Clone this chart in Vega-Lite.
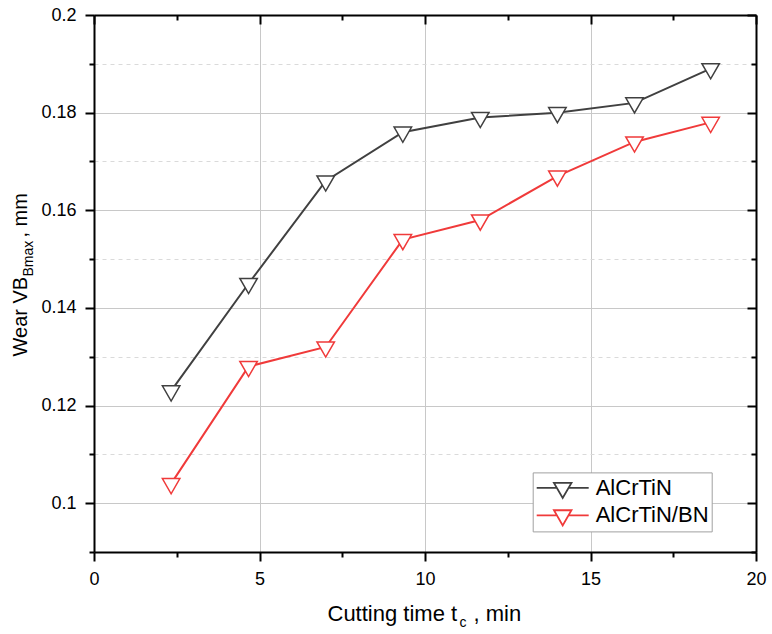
{
  "$schema": "https://vega.github.io/schema/vega-lite/v6.json",
  "autosize": {"type": "none"},
  "width": 662,
  "height": 537,
  "padding": {"left": 94, "top": 15, "right": 16, "bottom": 82},
  "background": "white",
  "config": {"view": {"stroke": null}, "font": "Liberation Sans"},
  "data": {
    "values": [
      {"t": 2.33, "wear": 0.123, "series": "AlCrTiN"},
      {"t": 4.67, "wear": 0.145, "series": "AlCrTiN"},
      {"t": 7.0, "wear": 0.166, "series": "AlCrTiN"},
      {"t": 9.33, "wear": 0.176, "series": "AlCrTiN"},
      {"t": 11.67, "wear": 0.179, "series": "AlCrTiN"},
      {"t": 14.0, "wear": 0.18, "series": "AlCrTiN"},
      {"t": 16.33, "wear": 0.182, "series": "AlCrTiN"},
      {"t": 18.63, "wear": 0.189, "series": "AlCrTiN"},
      {"t": 2.33, "wear": 0.104, "series": "AlCrTiN/BN"},
      {"t": 4.67, "wear": 0.128, "series": "AlCrTiN/BN"},
      {"t": 7.0, "wear": 0.132, "series": "AlCrTiN/BN"},
      {"t": 9.33, "wear": 0.154, "series": "AlCrTiN/BN"},
      {"t": 11.67, "wear": 0.158, "series": "AlCrTiN/BN"},
      {"t": 14.0, "wear": 0.167, "series": "AlCrTiN/BN"},
      {"t": 16.33, "wear": 0.174, "series": "AlCrTiN/BN"},
      {"t": 18.63, "wear": 0.178, "series": "AlCrTiN/BN"}
    ]
  },
  "resolve": {"axis": {"x": "independent", "y": "independent"}},
  "layer": [
    {
      "mark": {"type": "line", "strokeWidth": 2},
      "encoding": {
        "x": {
          "field": "t", "type": "quantitative",
          "scale": {"domain": [0, 20], "nice": false, "zero": false},
          "axis": {
            "orient": "bottom",
            "values": [0, 2.5, 5, 7.5, 10, 12.5, 15, 17.5, 20],
            "labelExpr": "datum.value % 5 === 0 ? format(datum.value, 'd') : ''",
            "labelFont": "Liberation Sans", "labelFontSize": 18, "labelColor": "black",
            "labelPadding": 9, "labelFlush": false, "labelOverlap": false,
            "domainColor": "black", "domainWidth": 2,
            "tickColor": "black", "tickWidth": 2,
            "tickSize": {"condition": {"test": "datum.value % 5 !== 0", "value": 5}, "value": 9},
            "grid": true, "gridColor": "#c8c8c8", "gridWidth": 1,
            "gridOpacity": {"condition": {"test": "datum.value % 5 !== 0", "value": 0}, "value": 1},
            "title": "Cutting time t", "titleFont": "Liberation Sans", "titleFontSize": 22,
            "titleFontWeight": "normal", "titleColor": "black",
            "titleX": 233, "titleY": 68, "titleAlign": "left", "titleBaseline": "alphabetic", "titleAngle": 0
          }
        },
        "y": {
          "field": "wear", "type": "quantitative",
          "scale": {"domain": [0.09, 0.2], "nice": false, "zero": false},
          "axis": {
            "orient": "left",
            "values": [0.09, 0.1, 0.11, 0.12, 0.13, 0.14, 0.15, 0.16, 0.17, 0.18, 0.19, 0.2],
            "labelExpr": "round(datum.value * 100) % 2 === 0 ? format(datum.value, '~g') : ''",
            "labelFont": "Liberation Sans", "labelFontSize": 18, "labelColor": "black",
            "labelPadding": 9, "labelFlush": false, "labelOverlap": false,
            "domainColor": "black", "domainWidth": 2,
            "tickColor": "black", "tickWidth": 2,
            "tickSize": {"condition": {"test": "round(datum.value * 100) % 2 === 1", "value": 5}, "value": 9},
            "grid": true, "gridWidth": 1,
            "gridColor": {"condition": {"test": "round(datum.value * 100) % 2 === 1", "value": "#dadada"}, "value": "#c8c8c8"},
            "gridDash": {"condition": {"test": "round(datum.value * 100) % 2 === 1", "value": [4, 4]}, "value": []},
            "title": "Wear VB", "titleFont": "Liberation Sans", "titleFontSize": 20,
            "titleFontWeight": "normal", "titleColor": "black",
            "titleX": -68, "titleY": 341, "titleAlign": "left", "titleBaseline": "alphabetic", "titleAngle": 270
          }
        },
        "color": {
          "field": "series", "type": "nominal",
          "scale": {"domain": ["AlCrTiN", "AlCrTiN/BN"], "range": ["#404040", "#f03a3a"]},
          "legend": {
            "orient": "none", "legendX": 438.7, "legendY": 457.4,
            "title": null,
            "symbolType": "M-1,0L-0.225,0M0.225,0L1,0M-0.337,-0.194L0.337,-0.194L0,0.389Z",
            "symbolSize": 2704, "symbolStrokeWidth": 1.8, "symbolFillColor": "white",
            "symbolOffset": 0,
            "labelFont": "Liberation Sans", "labelFontSize": 22, "labelColor": "black",
            "labelOffset": 6, "padding": 3, "clipHeight": 25, "rowPadding": 2.4,
            "strokeColor": "#a0a0a0", "fillColor": "white"
          }
        }
      }
    },
    {
      "mark": {
        "type": "point",
        "shape": "M-1,-0.577L1,-0.577L0,1.155Z",
        "size": 306, "filled": true, "fill": "white", "strokeWidth": 1.5, "opacity": 1
      },
      "encoding": {
        "x": {
          "field": "t", "type": "quantitative",
          "axis": {
            "orient": "top",
            "values": [0, 2.5, 5, 7.5, 10, 12.5, 15, 17.5, 20],
            "labels": false, "grid": false, "title": null,
            "domainColor": "black", "domainWidth": 2,
            "tickColor": "black", "tickWidth": 2,
            "tickSize": {"condition": {"test": "datum.value % 5 !== 0", "value": -5}, "value": -9}
          }
        },
        "y": {
          "field": "wear", "type": "quantitative",
          "axis": {
            "orient": "right",
            "values": [0.09, 0.1, 0.11, 0.12, 0.13, 0.14, 0.15, 0.16, 0.17, 0.18, 0.19, 0.2],
            "labels": false, "grid": false, "title": null,
            "domainColor": "black", "domainWidth": 2,
            "tickColor": "black", "tickWidth": 2,
            "tickSize": {"condition": {"test": "round(datum.value * 100) % 2 === 1", "value": -5}, "value": -9}
          }
        },
        "stroke": {
          "field": "series", "type": "nominal",
          "scale": {"domain": ["AlCrTiN", "AlCrTiN/BN"], "range": ["#404040", "#f03a3a"]},
          "legend": null
        }
      }
    },
    {
      "mark": {"type": "point", "opacity": 0, "size": 0},
      "encoding": {
        "x": {
          "field": "t", "type": "quantitative",
          "axis": {
            "orient": "bottom", "domain": false, "ticks": false, "labels": false, "grid": false,
            "title": "c", "titleFont": "Liberation Sans", "titleFontSize": 14,
            "titleFontWeight": "normal", "titleColor": "black",
            "titleX": 365, "titleY": 74, "titleAlign": "left", "titleBaseline": "alphabetic", "titleAngle": 0
          }
        },
        "y": {
          "field": "wear", "type": "quantitative",
          "axis": {
            "orient": "left", "domain": false, "ticks": false, "labels": false, "grid": false,
            "title": "Bmax", "titleFont": "Liberation Sans", "titleFontSize": 14,
            "titleFontWeight": "normal", "titleColor": "black",
            "titleX": -62, "titleY": 261, "titleAlign": "left", "titleBaseline": "alphabetic", "titleAngle": 270
          }
        }
      }
    },
    {
      "mark": {"type": "point", "opacity": 0, "size": 0},
      "encoding": {
        "x": {
          "field": "t", "type": "quantitative",
          "axis": {
            "orient": "bottom", "domain": false, "ticks": false, "labels": false, "grid": false,
            "title": ", min", "titleFont": "Liberation Sans", "titleFontSize": 22,
            "titleFontWeight": "normal", "titleColor": "black",
            "titleX": 379, "titleY": 68, "titleAlign": "left", "titleBaseline": "alphabetic", "titleAngle": 0
          }
        },
        "y": {
          "field": "wear", "type": "quantitative",
          "axis": {
            "orient": "left", "domain": false, "ticks": false, "labels": false, "grid": false,
            "title": ", mm", "titleFont": "Liberation Sans", "titleFontSize": 20,
            "titleFontWeight": "normal", "titleColor": "black",
            "titleX": -68, "titleY": 222, "titleAlign": "left", "titleBaseline": "alphabetic", "titleAngle": 270
          }
        }
      }
    }
  ]
}
